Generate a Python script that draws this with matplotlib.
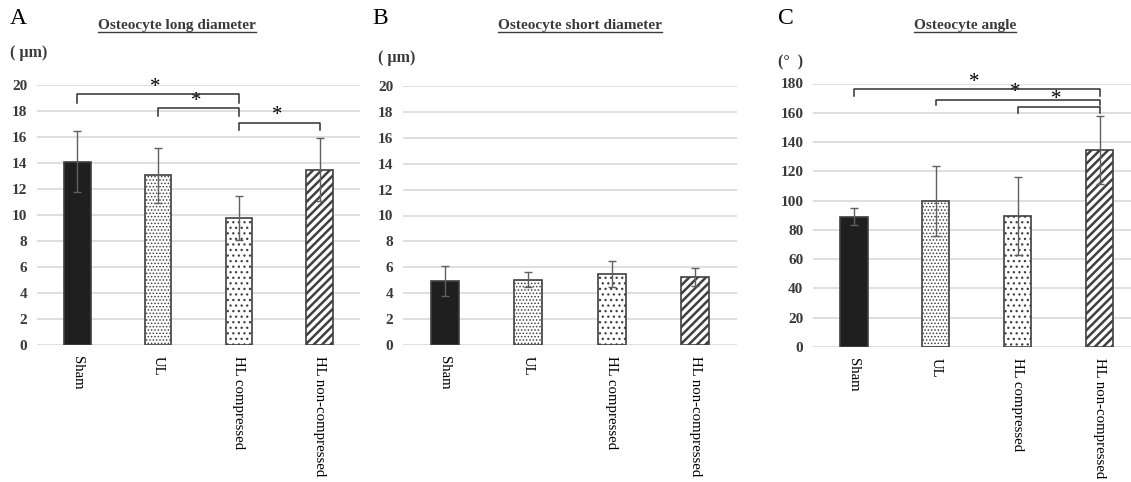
import matplotlib.pyplot as plt
from matplotlib.lines import Line2D

plt.rcParams['font.family'] = ['Liberation Serif', 'DejaVu Serif']
plt.rcParams['hatch.linewidth'] = 0.8

groups = ['Sham', 'UL', 'HL compressed', 'HL non-compressed']

long_mean = [14.1, 13.05, 9.8, 13.5]
long_sd = [2.35, 2.1, 1.7, 2.45]

short_mean = [4.95, 5.05, 5.5, 5.25]
short_sd = [1.15, 0.55, 1.0, 0.7]

angle_mean = [89, 99.5, 89.5, 134.5]
angle_sd = [6, 24, 26.5, 23]

# significance brackets: (from group, to group, bar height, tick drop)
long_sig = [(0, 2, 19.3, 0.65), (1, 2, 18.2, 0.55), (2, 3, 17.1, 0.55)]
angle_sig = [(0, 3, 176, 4.5), (1, 3, 169, 3.5), (2, 3, 164, 4)]

fills = ['#1f1f1f', 'white', 'white', 'white']
hatches = [None, '.....', '...', '////']
hatch_lw = [0.8, 0.7, 0.9, 1.8]
edge = '#404040'


def draw_panel(rect, means, sds, ymax, ystep, xmax, sig):
    ax = fig.add_axes(rect)
    x = list(range(len(groups)))
    for i in x:
        b = ax.bar(i, means[i], width=0.33, color=fills[i], edgecolor=edge,
                   hatch=hatches[i], linewidth=1.2, zorder=3)
        for p in b.patches:
            if hasattr(p, 'set_hatch_linewidth'):
                p.set_hatch_linewidth(hatch_lw[i])
    ax.errorbar(x, means, yerr=sds, fmt='none', ecolor='#606060',
                elinewidth=1, capsize=3, capthick=1, zorder=4)
    ax.set_xlim(-0.5, xmax)
    ax.set_ylim(0, ymax)
    ax.set_yticks(range(0, ymax + 1, ystep))
    ax.yaxis.grid(True, color='#d9d9d9', linewidth=1.2, zorder=0)
    ax.set_axisbelow(True)
    for s in ax.spines.values():
        s.set_visible(False)
    ax.tick_params(length=0)
    ax.tick_params(axis='y', pad=7)
    for t in ax.get_yticklabels():
        t.set_fontweight('bold')
        t.set_fontsize(11)
        t.set_color('#3a3a3a')
    ax.set_xticks(x)
    ax.set_xticklabels(groups, rotation=-90, fontsize=10.7, va='top')
    ax.tick_params(axis='x', pad=8)

    for a, b, h, d in sig:
        ax.plot([a, a, b, b], [h - d, h, h, h - d], color='#303030',
                linewidth=1.1, clip_on=False, zorder=5)
        ax.annotate('*', xy=((a + b) / 2 - 0.03, h), xytext=(0, 5),
                    textcoords='offset points', ha='center', va='center',
                    fontsize=15, annotation_clip=False)
    return ax


fig = plt.figure(figsize=(11.31, 4.82), dpi=100)
W, H = 1131, 482


def rect(x0, x1, ytop, ybot):
    return [x0 / W, 1 - ybot / H, (x1 - x0) / W, (ybot - ytop) / H]


panels = [
    (rect(37, 360, 85, 345), 'A', 'Osteocyte long diameter', '( µm)',
     long_mean, long_sd, 20, 2, 3.5, long_sig, 10, 10, 53, 177),
    (rect(403, 737, 86, 345), 'B', 'Osteocyte short diameter', '( µm)',
     short_mean, short_sd, 20, 2, 3.5, [], 372, 378, 58, 580),
    (rect(813, 1131, 83.5, 347), 'C', 'Osteocyte angle', '(°  )',
     angle_mean, angle_sd, 180, 20, 3.38, angle_sig, 778, 778, 62, 965),
]

titles = []
for r, letter, title, unit, m, s, ymax, ystep, xmax, sig, lx, ux, uy, tx in panels:
    draw_panel(r, m, s, ymax, ystep, xmax, sig)
    fig.text(lx / W, 1 - 18 / H, letter, fontsize=17, ha='left', va='center')
    fig.text(ux / W, 1 - uy / H, unit, fontsize=11.5, fontweight='bold',
             ha='left', va='center', color='#3a3a3a')
    t = fig.text(tx / W, 1 - 26 / H, title, fontsize=11, fontweight='bold',
                 ha='center', va='center', color='#3a3a3a')
    titles.append(t)

# underline the titles
renderer = fig.canvas.get_renderer()
for t in titles:
    bb = t.get_window_extent(renderer).transformed(fig.transFigure.inverted())
    fig.add_artist(Line2D([bb.x0, bb.x1], [bb.y0 + 0.002, bb.y0 + 0.002],
                          transform=fig.transFigure, color='#3a3a3a', linewidth=1))

fig.savefig('out.png', dpi=100)
